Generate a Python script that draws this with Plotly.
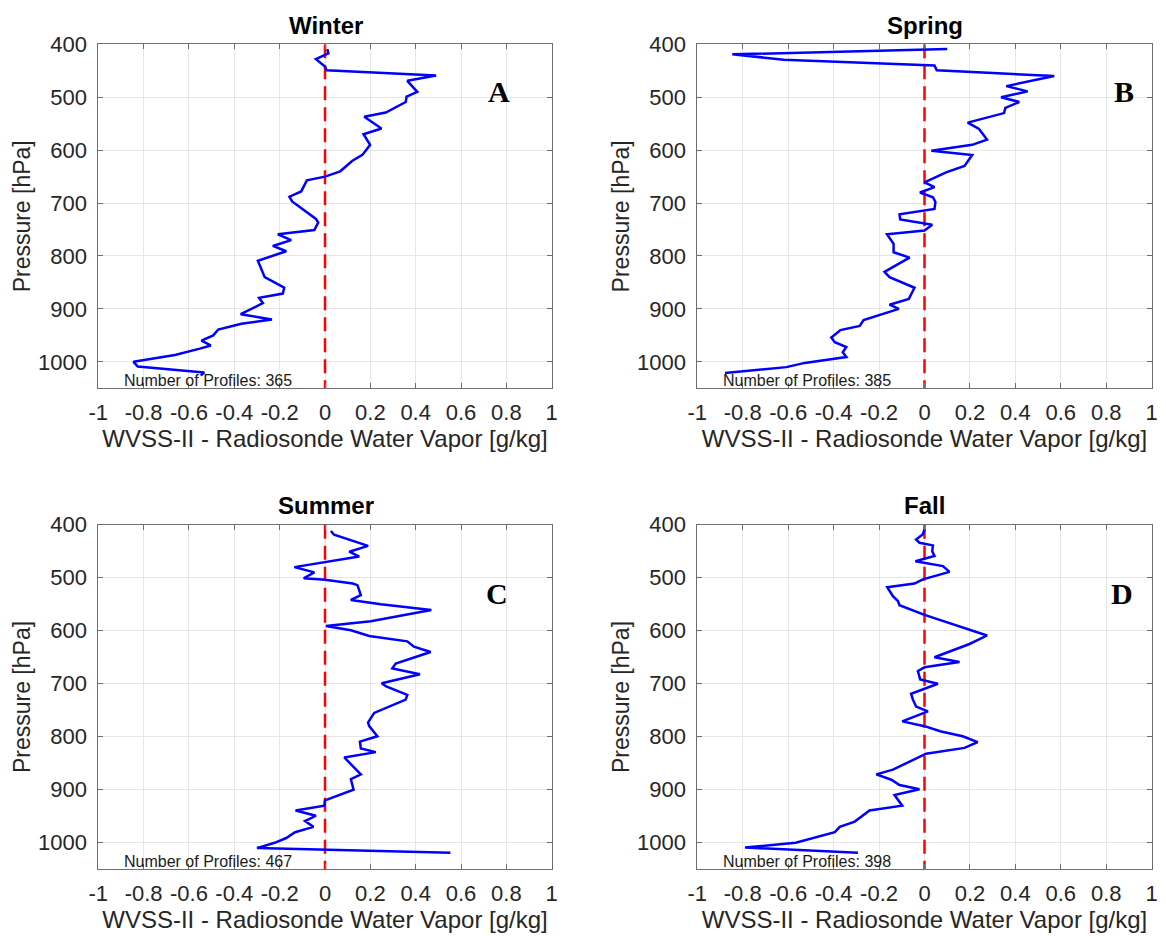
import plotly.graph_objects as go
from plotly.subplots import make_subplots

# ---------------- data ----------------
seasons = ["Winter", "Spring", "Summer", "Fall"]
panel_letters = ["A", "B", "C", "D"]
n_profiles = [365, 385, 467, 398]

p_winter = [409, 417, 428, 442, 449, 459, 469, 490, 499, 509, 529, 537, 559, 570, 590, 609, 620,
            640, 650, 657, 678, 688, 697, 730, 737, 751, 759, 770, 781, 791, 809, 821, 840, 860,
            871, 879, 889, 910, 920, 928, 939, 950, 960, 969, 975, 987, 1000, 1009, 1020, 1026]
v_winter = [0.01, 0.015, -0.04, 0.0, 0.007, 0.49, 0.363, 0.407, 0.36, 0.356, 0.268, 0.173, 0.249,
            0.17, 0.199, 0.165, 0.121, 0.067, 0.0, -0.08, -0.105, -0.157, -0.145, -0.04, -0.03,
            -0.047, -0.208, -0.149, -0.23, -0.171, -0.296, -0.285, -0.266, -0.18, -0.186, -0.291,
            -0.274, -0.372, -0.234, -0.369, -0.471, -0.493, -0.545, -0.504, -0.552, -0.662, -0.845,
            -0.826, -0.533, -0.548]

p_spring = [409, 419, 429, 438, 440, 449, 460, 479, 489, 500, 509, 520, 530, 548, 560, 580, 590,
            601, 609, 630, 642, 661, 670, 680, 689, 698, 711, 721, 731, 741, 752, 759, 777, 793,
            803, 830, 840, 860, 881, 892, 900, 921, 932, 940, 954, 963, 972, 982, 991, 1002, 1010,
            1021]
v_spring = [0.10, -0.846, -0.62, -0.007, 0.044, 0.054, 0.571, 0.36, 0.454, 0.337, 0.417, 0.356,
            0.35, 0.19, 0.24, 0.275, 0.21, 0.03, 0.21, 0.176, 0.095, 0.0, 0.044, -0.02, 0.037,
            0.048, 0.044, -0.11, -0.107, 0.034, 0.0, -0.165, -0.136, -0.136, -0.066, -0.176,
            -0.154, -0.044, -0.069, -0.154, -0.113, -0.268, -0.285, -0.37, -0.41, -0.395, -0.344,
            -0.36, -0.344, -0.527, -0.608, -0.878]

p_summer = [412, 419, 440, 451, 460, 480, 490, 501, 504, 511, 514, 533, 542, 550, 561, 582, 591,
            599, 610, 620, 630, 640, 662, 671, 682, 699, 705, 721, 730, 755, 773, 780, 799, 809,
            822, 829, 839, 871, 880, 900, 920, 930, 939, 949, 959, 970, 980, 991, 1000, 1010, 1019]
v_summer = [0.026, 0.04, 0.19, 0.107, 0.151, -0.135, -0.047, -0.094, 0.0, 0.122, 0.143, 0.158,
            0.114, 0.246, 0.469, 0.202, 0.004, 0.114, 0.195, 0.363, 0.392, 0.466, 0.312, 0.297,
            0.419, 0.25, 0.27, 0.363, 0.356, 0.217, 0.19, 0.195, 0.231, 0.154, 0.158, 0.224,
            0.085, 0.158, 0.114, 0.126, 0.0, -0.003, -0.13, -0.04, -0.088, -0.051, -0.132, -0.171,
            -0.222, -0.3, 0.553]

p_fall = [409, 418, 428, 434, 439, 450, 459, 469, 478, 489, 503, 511, 518, 535, 544, 552, 570,
          609, 625, 650, 659, 669, 676, 692, 700, 719, 730, 743, 752, 771, 780, 790, 799, 810,
          821, 832, 862, 871, 881, 891, 899, 910, 930, 939, 960, 970, 980, 1000, 1009, 1019]
v_fall = [0.0, -0.007, -0.037, -0.022, 0.037, 0.034, 0.044, -0.04, 0.081, 0.11, -0.007, -0.044,
          -0.164, -0.139, -0.117, -0.11, 0.0, 0.275, 0.198, 0.044, 0.154, 0.0, -0.029, -0.019,
          0.059, -0.059, -0.051, -0.037, 0.015, -0.098, 0.0, 0.073, 0.168, 0.234, 0.176, 0.007,
          -0.139, -0.212, -0.146, -0.11, -0.022, -0.132, -0.098, -0.242, -0.307, -0.373, -0.395,
          -0.567, -0.79, -0.293]

zero_x = [0, 0]
zero_p = [400, 1050]

x_tickvals = [-1, -0.8, -0.6, -0.4, -0.2, 0, 0.2, 0.4, 0.6, 0.8, 1]
x_ticktext = ["-1", "-0.8", "-0.6", "-0.4", "-0.2", "0", "0.2", "0.4", "0.6", "0.8", "1"]
y_tickvals = [400, 500, 600, 700, 800, 900, 1000]

profiles = [(p_winter, v_winter), (p_spring, v_spring), (p_summer, v_summer), (p_fall, v_fall)]

# ---------------- figure ----------------
W, H = 1166, 936
fig = make_subplots(rows=2, cols=2)

x_domains = [[98.3 / W, 551.7 / W], [697.3 / W, 1151.7 / W]]
y_domains = [[1 - 388.3 / H, 1 - 44.3 / H], [1 - 869.3 / H, 1 - 524.7 / H]]

TICK_COLOR = "#262626"
FONT = "Liberation Sans, Arial, sans-serif"

for i, (pp, vv) in enumerate(profiles):
    r, c = i // 2 + 1, i % 2 + 1
    fig.add_trace(go.Scatter(x=zero_x, y=zero_p, mode="lines",
                             line=dict(color="#ff0000", width=2.5, dash="14px,7px"),
                             showlegend=False, hoverinfo="skip"), row=r, col=c)
    fig.add_trace(go.Scatter(x=vv, y=pp, mode="lines", name=seasons[i],
                             line=dict(color="#0000ff", width=2.5),
                             showlegend=False), row=r, col=c)

for i in range(4):
    r, c = i // 2, i % 2
    xa = "xaxis" if i == 0 else f"xaxis{i+1}"
    ya = "yaxis" if i == 0 else f"yaxis{i+1}"
    fig.layout[xa].update(
        domain=x_domains[c], range=[-1, 1], tickvals=x_tickvals, ticktext=x_ticktext,
        showline=True, linecolor="#6e6e6e", linewidth=1, mirror="allticks",
        ticks="inside", ticklen=5, tickcolor="#6e6e6e",
        showgrid=True, gridcolor="#e6e6e6", gridwidth=1, zeroline=False,
        tickfont=dict(family=FONT, size=22, color=TICK_COLOR),
        title=dict(text="WVSS-II - Radiosonde Water Vapor [g/kg]", standoff=6,
                   font=dict(family=FONT, size=24, color=TICK_COLOR)),
        automargin=False, ticklabelstandoff=4)
    fig.layout[ya].update(
        domain=y_domains[r], range=[1050, 400], tickvals=y_tickvals,
        showline=True, linecolor="#6e6e6e", linewidth=1, mirror="allticks",
        ticks="inside", ticklen=5, tickcolor="#6e6e6e",
        showgrid=True, gridcolor="#e6e6e6", gridwidth=1, zeroline=False,
        tickfont=dict(family=FONT, size=22, color=TICK_COLOR),
        title=dict(text="Pressure [hPa]", standoff=0,
                   font=dict(family=FONT, size=23, color=TICK_COLOR)),
        automargin=False, ticklabelstandoff=6)

# titles
title_pos = [(0.2796, 1 - 25 / H), (0.7929, 1 - 25 / H), (0.2796, 1 - 505.4 / H), (0.7929, 1 - 505.4 / H)]
for i, s in enumerate(seasons):
    fig.add_annotation(text=f"<b>{s}</b>", x=title_pos[i][0], y=title_pos[i][1],
                       xref="paper", yref="paper", showarrow=False,
                       xanchor="center", yanchor="middle",
                       font=dict(family=FONT, size=24, color="#000000"))

letter_pos = [(0.768, 490), (0.876, 490), (0.757, 529), (0.868, 529)]
for i, L in enumerate(panel_letters):
    xr = "x" if i == 0 else f"x{i+1}"
    yr = "y" if i == 0 else f"y{i+1}"
    fig.add_annotation(text=f"<b>{L}</b>", x=letter_pos[i][0], y=letter_pos[i][1],
                       xref=xr, yref=yr, showarrow=False, xanchor="center", yanchor="middle",
                       font=dict(family="Liberation Serif, Times New Roman, serif", size=30,
                                 color="#000000"))
    fig.add_annotation(text=f"Number of Profiles: {n_profiles[i]}", x=-0.897, y=1036,
                       xref=xr, yref=yr, showarrow=False, xanchor="left", yanchor="middle",
                       font=dict(family=FONT, size=16, color="#1a1a1a"))

fig.update_layout(width=W, height=H, margin=dict(l=0, r=0, t=0, b=0),
                  paper_bgcolor="white", plot_bgcolor="white", showlegend=False)

fig.write_html("out.html", config={"displayModeBar": False},
               post_script="document.body.style.margin='0px';document.body.style.overflow='hidden';")
